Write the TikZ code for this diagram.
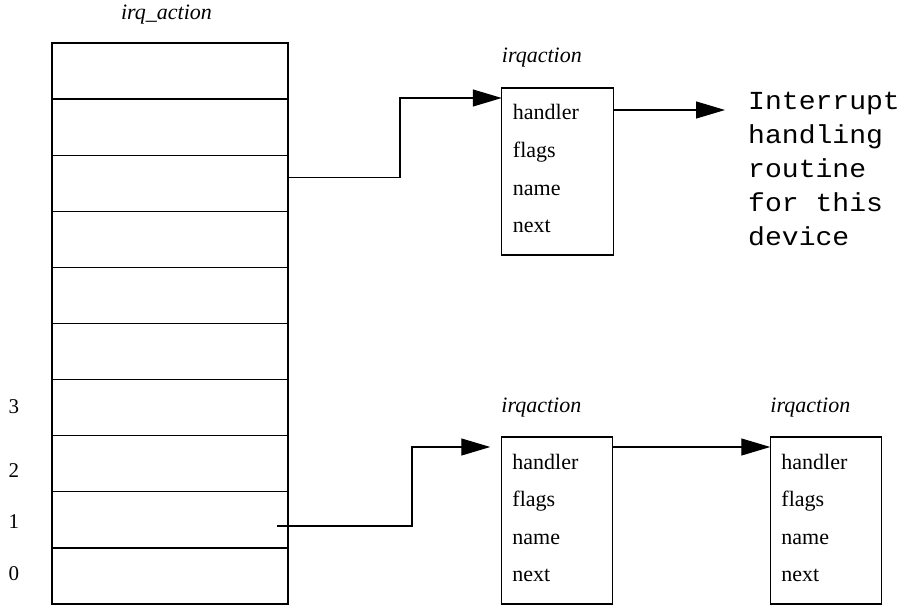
\documentclass[tikz,border=0pt]{standalone}
\usepackage{fontspec}
\setmainfont{Liberation Serif}
\newfontfamily\cmono{Liberation Mono}
\usetikzlibrary{arrows.meta,calc}
\begin{document}
\begin{tikzpicture}[x=1pt,y=-1pt,
  cell/.style={draw,line width=1.2pt,minimum width=236pt,minimum height=56.1pt,inner sep=0pt,outer sep=0pt},
  sbox/.style={draw,line width=1.2pt,minimum width=111.5pt,minimum height=167pt,inner sep=0pt,outer sep=0pt},
  fld/.style={anchor=base west,inner sep=0pt,font=\fontsize{22}{26}\selectfont},
  ttl/.style={anchor=base west,inner sep=0pt,font=\fontsize{22}{26}\selectfont\itshape},
  idx/.style={anchor=base,inner sep=0pt,font=\fontsize{21}{25}\selectfont},
  conn/.style={line width=1.2pt,-{Triangle[length=29pt,width=17pt]}}]
\useasboundingbox (0,0) rectangle (907,607);
% array
\foreach \i in {1,...,10}
  \node[cell] (row\i) at (170,{43+28.05+56.1*(\i-1)}) {};
\node[anchor=base,inner sep=0pt,font=\fontsize{22}{26}\selectfont\itshape] (arrtitle) at (166.5,20) {irq\_action};
\node[idx] (i3) at (14,413.5) {3};
\node[idx] (i2) at (14,477.5) {2};
\node[idx] (i1) at (14,528.5) {1};
\node[idx] (i0) at (14,580.5) {0};
% boxes
\node[sbox] (box1) at (557.5,171.5) {};
\node[sbox] (box2) at (557,520.5) {};
\node[sbox] (box3) at (826,520.5) {};
\foreach \b in {box1,box2,box3}{
  \node[ttl] (\b-t) at ($(\b.north west)+(0,-25)$) {irqaction};
  \node[fld] (\b-h) at ($(\b.north west)+(11,32)$) {handler};
  \node[fld] (\b-f) at ($(\b.north west)+(11,69.5)$) {flags};
  \node[fld] (\b-n) at ($(\b.north west)+(11,107)$) {name};
  \node[fld] (\b-x) at ($(\b.north west)+(11,144.5)$) {next};
}
% routine text
\node[anchor=base west,inner sep=0pt] (routine) at (748,110)
  {\scalebox{1.08}[1]{\fontsize{26}{34}\selectfont\cmono
   \begin{tabular}[t]{@{}l@{}}Interrupt\\handling\\routine\\for this\\device\end{tabular}}};
% connectors
\coordinate (a1) at ($(row3.east)+(0,-6)$);
\coordinate (b1) at ($(box1.north west)+(0,10)$);
\draw[conn] (a1) -- ++(112,0) |- (b1);
\coordinate (t1) at (725,110);
\draw[conn] ($(box1.north east)+(0,22)$) -- (t1);
\coordinate (a2) at (277,526);
\coordinate (b2) at ($(box2.north west)+(0,10)$);
\draw[conn,shorten >=11pt] (a2) -- ++(135,0) |- (b2);
\draw[conn] ($(box2.north east)+(0,10)$) -- ($(box3.north west)+(0,10)$);
\end{tikzpicture}
\end{document}
